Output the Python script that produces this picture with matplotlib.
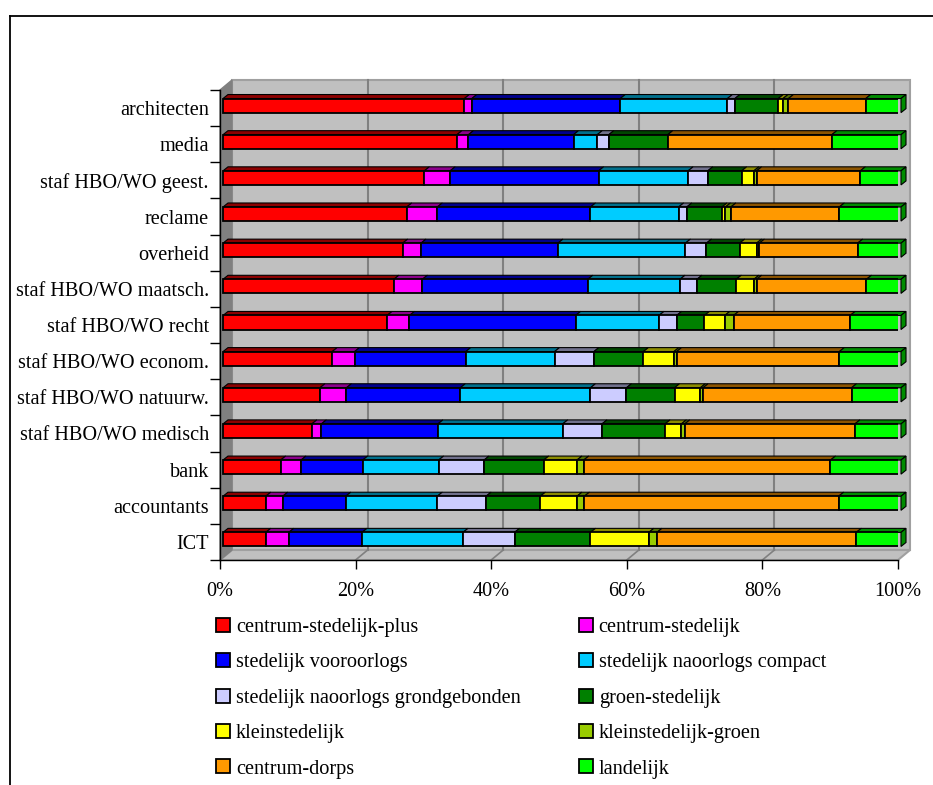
import numpy as np
import matplotlib
matplotlib.use("Agg")
from matplotlib import pyplot as plt
from matplotlib.patches import Polygon
from matplotlib.lines import Line2D
from matplotlib.colors import to_rgb

plt.rcParams['font.family'] = ['Liberation Serif', 'DejaVu Serif']

# beroepsgroepen, van boven naar beneden
categories = ["architecten", "media", "staf HBO/WO geest.", "reclame", "overheid",
              "staf HBO/WO maatsch.", "staf HBO/WO recht", "staf HBO/WO econom.",
              "staf HBO/WO natuurw.", "staf HBO/WO medisch", "bank", "accountants", "ICT"]

# aandeel per woonmilieu (%)
cs_plus     = [35.6, 34.5, 29.7, 27.1, 26.5, 25.2, 24.2, 16.1, 14.3, 13.1, 8.5, 6.3, 6.3]
cs          = [1.1, 1.7, 3.8, 4.5, 2.7, 4.2, 3.3, 3.3, 3.9, 1.4, 3.0, 2.5, 3.4]
vooroorlogs = [21.9, 15.5, 21.9, 22.6, 20.2, 24.4, 24.5, 16.4, 16.8, 17.2, 9.1, 9.3, 10.8]
compact     = [15.8, 3.5, 13.2, 13.0, 18.8, 13.6, 12.3, 13.1, 19.2, 18.4, 11.2, 13.5, 14.9]
grondgeb    = [1.1, 1.7, 2.9, 1.2, 3.1, 2.5, 2.6, 5.8, 5.3, 5.8, 6.7, 7.2, 7.6]
groen_sted  = [6.4, 8.7, 5.0, 5.2, 4.9, 5.8, 4.1, 7.3, 7.1, 9.3, 8.8, 8.0, 11.2]
klein       = [0.7, 0.0, 1.8, 0.5, 2.5, 2.6, 3.0, 4.5, 3.8, 2.4, 4.9, 5.4, 8.6]
klein_groen = [0.8, 0.0, 0.4, 0.8, 0.4, 0.4, 1.3, 0.4, 0.4, 0.5, 1.0, 1.1, 1.2]
dorps       = [11.4, 24.2, 15.3, 16.0, 14.5, 16.2, 17.2, 24.0, 21.9, 25.1, 36.4, 37.5, 29.4]
landelijk   = [5.2, 10.2, 6.0, 9.1, 6.4, 5.1, 7.5, 9.1, 7.3, 6.8, 10.4, 9.2, 6.6]

series = [cs_plus, cs, vooroorlogs, compact, grondgeb, groen_sted, klein, klein_groen, dorps, landelijk]
labels = ["centrum-stedelijk-plus", "centrum-stedelijk", "stedelijk vooroorlogs",
          "stedelijk naoorlogs compact", "stedelijk naoorlogs grondgebonden", "groen-stedelijk",
          "kleinstedelijk", "kleinstedelijk-groen", "centrum-dorps", "landelijk"]
colors = ["#FF0000", "#FF00FF", "#0000FF", "#00CCFF", "#CCCCFF",
          "#008000", "#FFFF00", "#99CC00", "#FF9900", "#00FF00"]

W, H = 933, 785
fig = plt.figure(figsize=(W / 100, H / 100), dpi=100)
ax = fig.add_axes([220 / W, 1 - 560 / H, 678 / W, 470 / H])
ax.set_xlim(0, 100)
ax.set_ylim(-0.5, 12.5)
ax.patch.set_visible(False)

# pixels -> data units
px = 100 / 678
py = 13 / 470
wall_dx, wall_dy = 12 * px, 10 * py
bar_dx, bar_dy = 3 * px, 2.5 * py
dep_dx, dep_dy = 5 * px, 4 * py
bar_h = 0.39


def darker(c, f=0.55):
    r, g, b = to_rgb(c)
    return (r * f, g * f, b * f)


# achterwand, vloer en zijwand
y0, y1 = -0.5, 12.5
ax.add_patch(Polygon([(wall_dx, y0 + wall_dy), (100 + wall_dx, y0 + wall_dy),
                      (100 + wall_dx, y1 + wall_dy), (wall_dx, y1 + wall_dy)],
                     closed=True, fc="#C0C0C0", ec="#A0A0A0", lw=1.5, clip_on=False, zorder=0))
ax.add_patch(Polygon([(0, y0), (100, y0), (100 + wall_dx, y0 + wall_dy), (wall_dx, y0 + wall_dy)],
                     closed=True, fc="#C0C0C0", ec="#A0A0A0", lw=1.5, clip_on=False, zorder=0))
ax.add_patch(Polygon([(0, y0), (wall_dx, y0 + wall_dy), (wall_dx, y1 + wall_dy), (0, y1)],
                     closed=True, fc="#808080", ec="#808080", lw=1, clip_on=False, zorder=0))
for g in [20, 40, 60, 80]:
    ax.plot([g + wall_dx, g + wall_dx], [y0 + wall_dy, y1 + wall_dy], color="#808080", lw=1.5,
            clip_on=False, zorder=1)
    ax.plot([g, g + wall_dx], [y0, y0 + wall_dy], color="#808080", lw=1.2, clip_on=False, zorder=1)

ypos = np.arange(len(categories))[::-1]
left = np.zeros(len(categories))
handles = []
for j, vals in enumerate(series):
    vals = np.array(vals)
    bars = ax.barh(ypos + bar_dy, vals, left=left + bar_dx, height=bar_h, color=colors[j],
                   edgecolor="black", lw=1.3, zorder=3, label=labels[j])
    handles.append(bars)
    for i, v in enumerate(vals):
        if v <= 0:
            bars.patches[i].set_visible(False)
            continue
        xa = left[i] + bar_dx
        xb = xa + v
        yt = ypos[i] + bar_dy + bar_h / 2
        yb = ypos[i] + bar_dy - bar_h / 2
        ax.add_patch(Polygon([(xa, yt), (xb, yt), (xb + dep_dx, yt + dep_dy), (xa + dep_dx, yt + dep_dy)],
                             closed=True, fc=darker(colors[j]), ec="black", lw=0.8, zorder=2,
                             clip_on=False))
        if j == len(series) - 1:
            ax.add_patch(Polygon([(xb, yb), (xb, yt), (xb + dep_dx, yt + dep_dy), (xb + dep_dx, yb + dep_dy)],
                                 closed=True, fc=darker(colors[j]), ec="black", lw=0.8, zorder=2,
                                 clip_on=False))
    left = left + vals

ax.set_yticks(ypos)
ax.set_yticklabels(categories, fontsize=14.6)
ax.set_yticks(np.arange(-0.5, 13, 1), minor=True)
ax.tick_params(axis="y", which="major", length=0, pad=8)
ax.tick_params(axis="y", which="minor", length=7, width=1, color="black")
ax.set_xticks([0, 20, 40, 60, 80, 100])
ax.set_xticklabels(["0%", "20%", "40%", "60%", "80%", "100%"], fontsize=14.6)
ax.tick_params(axis="x", length=6.5, width=1, pad=9.5)
for s in ["top", "right"]:
    ax.spines[s].set_visible(False)
for s in ["left", "bottom"]:
    ax.spines[s].set_color("black")
    ax.spines[s].set_linewidth(1)
    ax.spines[s].set_zorder(4)

# legenda: rij voor rij, twee kolommen
order = [0, 2, 4, 6, 8, 1, 3, 5, 7, 9]
fig.legend([handles[k] for k in order], [labels[k] for k in order], ncol=2,
           loc="upper left", bbox_to_anchor=(216 / W, 1 - 618 / H), frameon=False,
           fontsize=14.6, handlelength=0.69, handleheight=0.69, handletextpad=0.3,
           columnspacing=2.85, labelspacing=0.8, borderpad=0, borderaxespad=0)

# kader
fig.add_artist(Line2D([10 / W, 1], [1 - 15.5 / H, 1 - 15.5 / H], transform=fig.transFigure,
                      color="black", lw=1.3))
fig.add_artist(Line2D([10 / W, 10 / W], [1 - 15.5 / H, 0], transform=fig.transFigure,
                      color="black", lw=1.3))

fig.savefig("out.png", dpi=100)
